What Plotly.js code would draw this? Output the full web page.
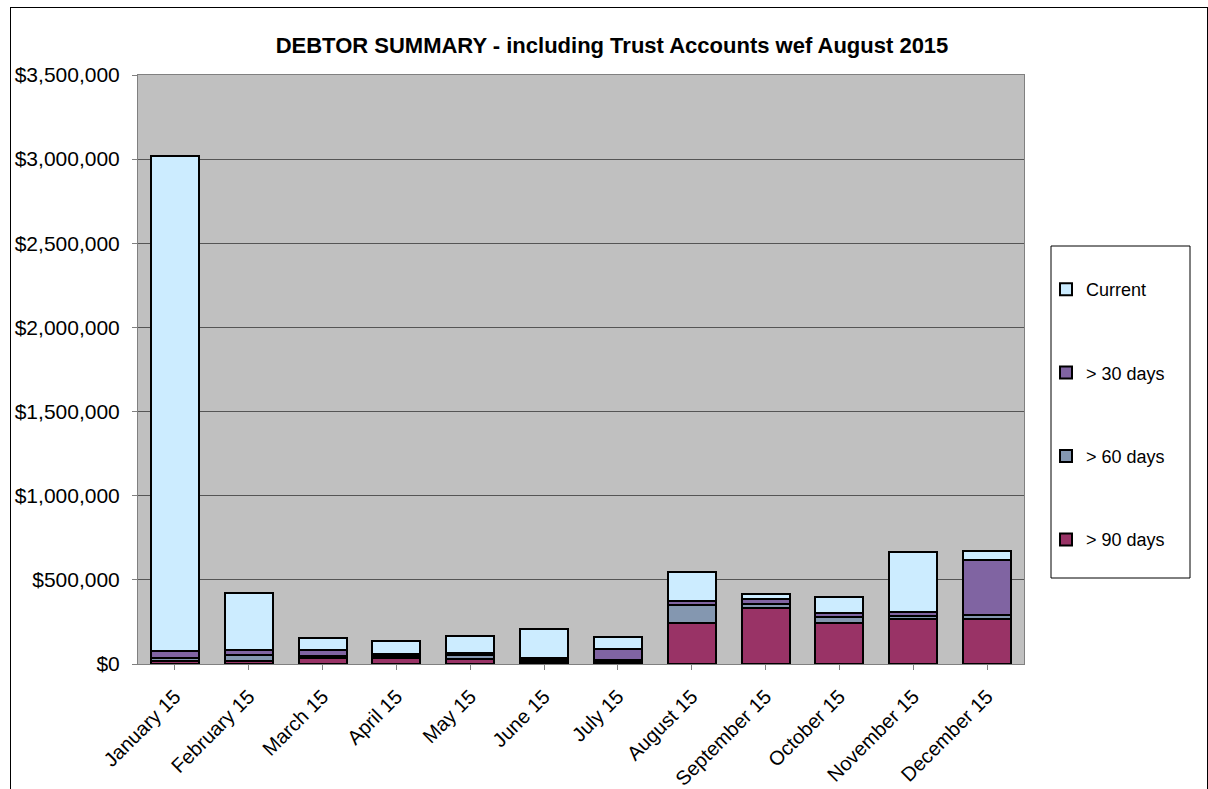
<!DOCTYPE html>
<html><head><meta charset="utf-8">
<script src="https://cdn.plot.ly/plotly-3.0.1.min.js"></script>
<style>
body{margin:0;padding:0;background:#fff;}
#wrap{position:relative;width:1208px;height:789px;}
#chart{width:1208px;height:789px;}
#frame{position:absolute;left:10px;top:7px;width:1196px;height:800px;border:1px solid #000;pointer-events:none;}
</style>
</head><body>
<div id="wrap"><div id="chart"></div><div id="frame"></div></div>
<script>
const months = ["January 15","February 15","March 15","April 15","May 15","June 15","July 15","August 15","September 15","October 15","November 15","December 15"];
const over90 = [20000,15000,35000,35000,28000,10000,10000,245000,330000,245000,268000,270000];
const over60 = [15000,40000,12000,10000,25000,15000,12000,108000,25000,35000,15000,20000];
const over30 = [45000,30000,35000,12000,14000,12000,65000,22000,30000,25000,28000,330000];
const current = [2940000,335000,70000,82000,100000,170000,72000,170000,30000,95000,357000,52000];

const names = ["> 90 days","> 60 days","> 30 days","Current"];
const series = [over90, over60, over30, current];
const colors = ["#993366","#8497B0","#8064A2","#CCECFF"];
const ranks = [4,3,2,1];

const traces = series.map((s,i)=>({
  type:'bar', x:months, y:s, name:names[i], legendgroup:'g'+i, legendrank:ranks[i],
  marker:{color:colors[i], line:{color:'#000', width:2}}
}));

const L=138, R=1024, T=75, B=664;
const px = v => (v-L)/(R-L);
const py = v => (B-v)/(B-T);

const layout = {
  width:1208, height:789,
  margin:{l:L, r:1208-R, t:T, b:789-B},
  paper_bgcolor:'#fff', plot_bgcolor:'#C0C0C0',
  barmode:'stack', bargap:0.35,
  font:{family:'Liberation Sans, Arial, sans-serif', color:'#000', size:18},
  title:{text:'<b>DEBTOR SUMMARY - including Trust Accounts wef August 2015</b>', x:612/1208, xref:'container', xanchor:'center',
         y:1-45/789, yref:'container', yanchor:'middle', font:{size:22}},
  xaxis:{tickangle:-45, tickfont:{size:20}, showline:true, linecolor:'#808080', linewidth:1, mirror:true,
         ticks:'outside', ticklen:5, tickcolor:'#808080', showgrid:false, ticklabelstandoff:7},
  yaxis:{range:[0,3500000], dtick:500000, tickprefix:'$', tickformat:',d', tickfont:{size:21},
         showgrid:true, gridcolor:'#555', gridwidth:1, showline:true, linecolor:'#808080', mirror:true,
         ticks:'outside', ticklen:5, tickcolor:'#808080', zeroline:false, ticklabelstandoff:8},
  legend:{x:px(1046), xanchor:'left', y:py(271), yanchor:'top', traceorder:'grouped',
          tracegroupgap:57, borderwidth:0, bgcolor:'rgba(0,0,0,0)', font:{size:18},
          itemwidth:30},
  shapes:[{type:'rect', xref:'paper', yref:'paper', x0:px(1051), x1:px(1190), y0:py(578), y1:py(246),
           line:{color:'#000', width:1}, fillcolor:'#fff', layer:'below'}],
  showlegend:true
};
Plotly.newPlot('chart', traces, layout, {displayModeBar:false, staticPlot:true});
</script>
</body></html>
